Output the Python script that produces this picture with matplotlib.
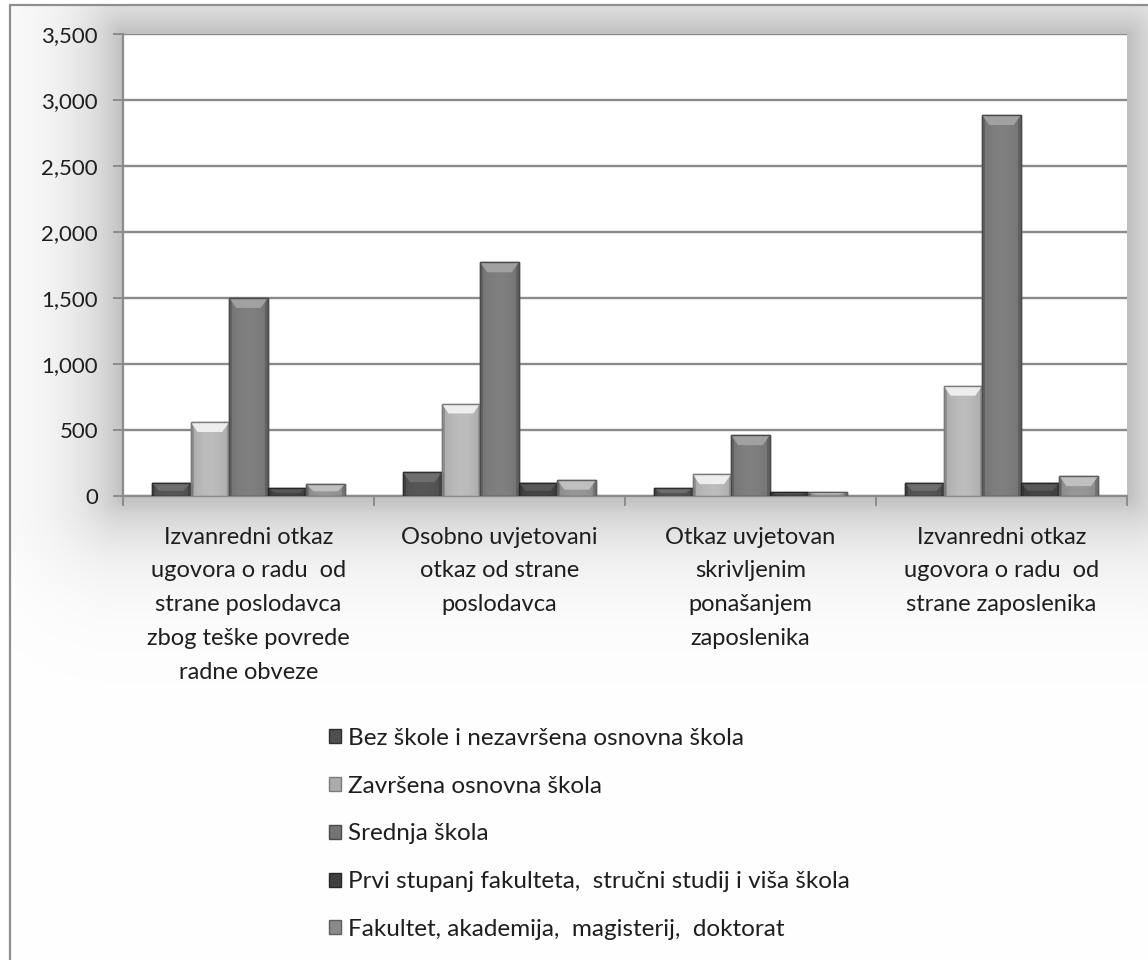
import numpy as np
import matplotlib
matplotlib.use('Agg')
import matplotlib.pyplot as plt
from matplotlib.patches import Polygon, Rectangle
from matplotlib.ticker import FuncFormatter, FixedLocator

plt.rcParams['font.family'] = ['Lato', 'DejaVu Sans']

categories = [
    'Izvanredni otkaz\nugovora o radu  od\nstrane poslodavca\nzbog teške povrede\nradne obveze',
    'Osobno uvjetovani\notkaz od strane\nposlodavca',
    'Otkaz uvjetovan\nskrivljenim\nponašanjem\nzaposlenika',
    'Izvanredni otkaz\nugovora o radu  od\nstrane zaposlenika',
]
series_names = [
    'Bez škole i nezavršena osnovna škola',
    'Završena osnovna škola',
    'Srednja škola',
    'Prvi stupanj fakulteta,  stručni studij i viša škola',
    'Fakultet, akademija,  magisterij,  doktorat',
]
bez_skole = [100, 180, 60, 100]
osnovna = [560, 700, 165, 835]
srednja = [1500, 1770, 460, 2885]
prvi_stupanj = [60, 100, 30, 100]
fakultet = [90, 120, 28, 150]
values = [bez_skole, osnovna, srednja, prvi_stupanj, fakultet]

colors = ['#4f4f4f', '#ababab', '#747474', '#3f3f3f', '#8a8a8a']
edge_colors = ['#2e2e2e', '#7c7c7c', '#4a4a4a', '#262626', '#5e5e5e']

W, H = 1148, 960
fig = plt.figure(figsize=(W / 100, H / 100), dpi=100)
fig.patch.set_facecolor('white')

# soft grey glow behind the plot area, clipped to the chart border
px_left, px_right, px_top, px_bottom = 123, 1127, 34, 496
yy, xx = np.mgrid[0:H, 0:W]
dx = np.maximum(np.maximum(px_left - xx, xx - px_right), 0)
dy = np.maximum(np.maximum(px_top - yy, yy - px_bottom), 0)
dist = np.hypot(dx, dy)
shade = 255 - 64 * np.exp(-dist / 45.0)
shade[(xx < 11) | (yy < 6)] = 255
glow = np.dstack([shade, shade, shade]).astype(np.uint8)
fig.figimage(glow, xo=0, yo=0, origin='upper', zorder=-1)

# chart border (runs past the right and bottom edge)
fig.patches.append(Rectangle((10 / W, -0.05), 1.2, 1 - 5 / H + 0.05,
                             transform=fig.transFigure, fill=False,
                             edgecolor='#8f8f8f', linewidth=1.6, zorder=1))

ax = fig.add_axes([px_left / W, 1 - px_bottom / H,
                   (px_right - px_left) / W, (px_bottom - px_top) / H])
ax.set_facecolor('white')

n = len(values)
x = np.arange(len(categories))
width = 1 / 6.5
px_per_x = (px_right - px_left) / 4

bar_groups = []
for j, (vals, c, ec) in enumerate(zip(values, colors, edge_colors)):
    bars = ax.bar(x + (j - (n - 1) / 2) * width, vals, width, color=c,
                  edgecolor=ec, linewidth=1.0, zorder=3, label=series_names[j])
    bar_groups.append(bars)
    base = np.array(matplotlib.colors.to_rgb(c))
    for p in bars:
        x0, w, h = p.get_x(), p.get_width(), p.get_height()
        # horizontal shading across each bar
        t = np.linspace(0, 1, 40)
        prof = 1.0 + 0.10 * np.sin(np.pi * t) - 0.18 * (np.abs(t - 0.5) > 0.44)
        grad = np.clip(base[None, None, :] * prof[None, :, None], 0, 1)
        im = ax.imshow(grad, extent=(x0, x0 + w, 0, h), aspect='auto',
                       zorder=3.5, interpolation='bilinear')
        im.set_clip_path(p)
        # bevelled top edge
        cap = min(75, 0.6 * h)
        inset = 7 / px_per_x
        top_cap = Polygon([(x0, h), (x0 + w, h), (x0 + w - inset, h - cap),
                           (x0 + inset, h - cap)], closed=True,
                          facecolor=np.clip(base * 1.45, 0, 1), edgecolor='none',
                          alpha=0.85, zorder=3.6)
        ax.add_patch(top_cap)
        ax.add_patch(Rectangle((x0, 0), w, h, fill=False, edgecolor=ec,
                               linewidth=1.0, zorder=3.7))

ax.set_xlim(-0.5, len(categories) - 0.5)
ax.set_ylim(0, 3500)
ax.set_yticks(np.arange(0, 3501, 500))
ax.yaxis.set_major_formatter(FuncFormatter(lambda v, _: f'{v:,.0f}'))
ax.grid(axis='y', color='#8a8a8a', linewidth=1.7, zorder=1)
ax.set_axisbelow(True)

ax.xaxis.set_major_locator(FixedLocator(np.arange(-0.5, len(categories), 1.0)))
ax.xaxis.set_major_formatter(FuncFormatter(lambda v, _: ''))
ax.xaxis.set_minor_locator(FixedLocator(x))
ax.set_xticklabels(categories, minor=True, fontsize=17, color='#1e1e1e',
                   linespacing=1.75, va='top')
ax.tick_params(axis='x', which='minor', length=0, pad=22)
ax.tick_params(axis='x', which='major', length=7, width=1.4, color='#8c8c8c',
               direction='out')
ax.tick_params(axis='y', length=7, width=1.4, color='#8c8c8c', direction='out',
               labelsize=16, labelcolor='#1e1e1e', pad=11)

for side in ['top', 'right']:
    ax.spines[side].set_visible(False)
for side in ['left', 'bottom']:
    ax.spines[side].set_color('#8c8c8c')
    ax.spines[side].set_linewidth(1.6)

leg = fig.legend(handles=[g[0] for g in bar_groups], labels=series_names,
                 loc='upper left', bbox_to_anchor=(329 / W, 1 - 728 / H),
                 frameon=False, fontsize=17.5, handlelength=0.5,
                 handleheight=0.5, handletextpad=0.28, labelspacing=1.1,
                 borderpad=0, borderaxespad=0)
for t in leg.get_texts():
    t.set_color('#1e1e1e')

fig.savefig('out.png', dpi=100, facecolor='white')
